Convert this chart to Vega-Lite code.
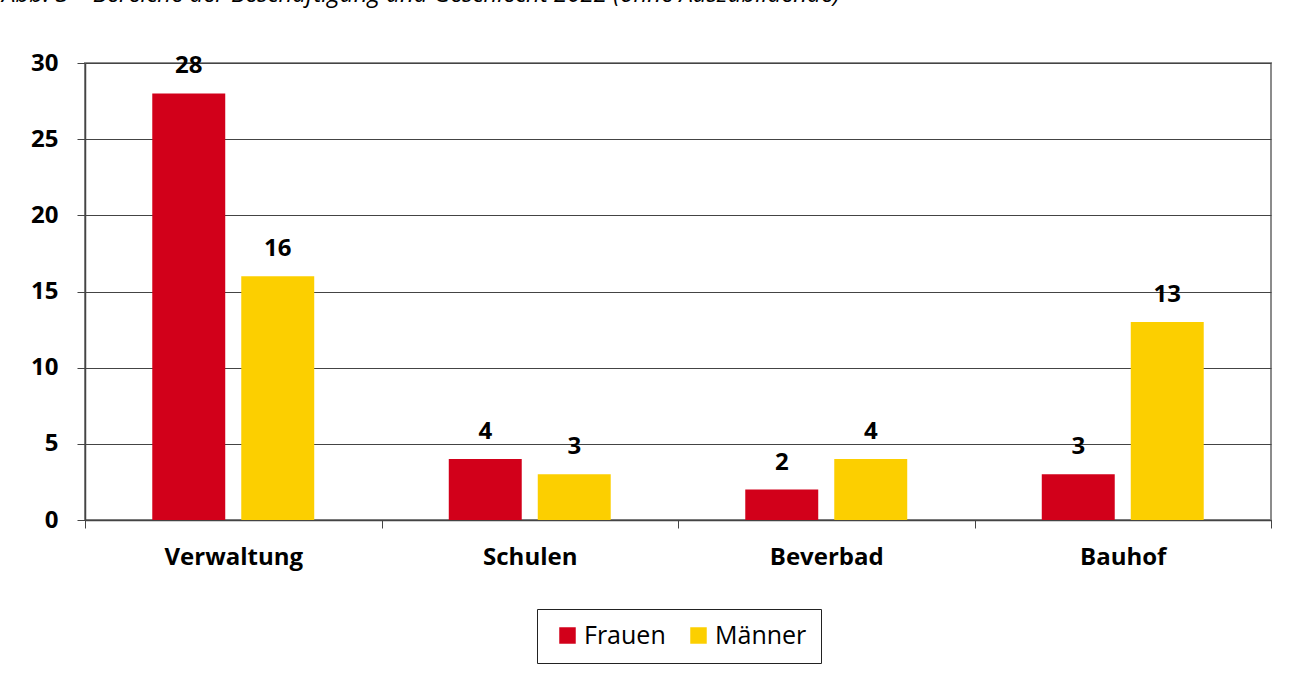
{
  "$schema": "https://vega.github.io/schema/vega-lite/v6.json",
  "width": 1186,
  "height": 457,
  "autosize": {"type": "none"},
  "padding": {"left": 85, "top": 63, "right": 30, "bottom": 153},
  "background": "white",
  "title": {
    "text": "Abb. 3 – Bereiche der Beschäftigung und Geschlecht 2022 (ohne Auszubildende)",
    "anchor": "start",
    "frame": "group",
    "dx": -83,
    "offset": 25,
    "baseline": "alphabetic",
    "font": "Open Sans",
    "fontStyle": "italic",
    "fontWeight": "normal",
    "fontSize": 24,
    "color": "#000"
  },
  "config": {
    "font": "Open Sans",
    "view": {"stroke": "#8c8c8c", "strokeWidth": 2}
  },
  "data": {
    "values": [
      {"Bereich": "Verwaltung", "Geschlecht": "Frauen", "Anzahl": 28},
      {"Bereich": "Verwaltung", "Geschlecht": "Männer", "Anzahl": 16},
      {"Bereich": "Schulen", "Geschlecht": "Frauen", "Anzahl": 4},
      {"Bereich": "Schulen", "Geschlecht": "Männer", "Anzahl": 3},
      {"Bereich": "Beverbad", "Geschlecht": "Frauen", "Anzahl": 2},
      {"Bereich": "Beverbad", "Geschlecht": "Männer", "Anzahl": 4},
      {"Bereich": "Bauhof", "Geschlecht": "Frauen", "Anzahl": 3},
      {"Bereich": "Bauhof", "Geschlecht": "Männer", "Anzahl": 13}
    ]
  },
  "encoding": {
    "x": {
      "field": "Bereich",
      "type": "nominal",
      "sort": ["Verwaltung", "Schulen", "Beverbad", "Bauhof"],
      "scale": {"paddingInner": 0, "paddingOuter": 0},
      "axis": {
        "title": null,
        "labelAngle": 0,
        "labelFontSize": 24,
        "labelFontWeight": "bold",
        "labelColor": "#000",
        "labelPadding": 17,
        "tickBand": "extent",
        "tickSize": 8,
        "tickColor": "#444",
        "domainColor": "#444",
        "domainWidth": 1.5
      }
    },
    "xOffset": {
      "field": "Geschlecht",
      "type": "nominal",
      "sort": ["Frauen", "Männer"],
      "scale": {"paddingInner": 0.18, "paddingOuter": 0.756}
    },
    "y": {
      "field": "Anzahl",
      "type": "quantitative",
      "scale": {"domain": [0, 30], "nice": false},
      "axis": {
        "title": null,
        "values": [0, 5, 10, 15, 20, 25, 30],
        "grid": true,
        "gridColor": "#444",
        "gridWidth": 1,
        "gridOpacity": 1,
        "tickSize": 8,
        "tickColor": "#444",
        "domainColor": "#444",
        "domainWidth": 1.5,
        "labelFontSize": 24,
        "labelFontWeight": "bold",
        "labelColor": "#000",
        "labelPadding": 19
      }
    }
  },
  "layer": [
    {
      "mark": {"type": "bar"},
      "encoding": {
        "color": {
          "field": "Geschlecht",
          "type": "nominal",
          "sort": ["Frauen", "Männer"],
          "scale": {"domain": ["Frauen", "Männer"], "range": ["#D2001A", "#FCCF00"]},
          "legend": {
            "title": null,
            "orient": "none",
            "legendX": 452,
            "legendY": 546,
            "direction": "horizontal",
            "gridAlign": "none",
            "strokeColor": "#222",
            "padding": 14,
            "symbolOffset": 4,
            "symbolType": "square",
            "symbolSize": 272,
            "symbolStrokeWidth": 0,
            "labelFontSize": 25,
            "labelFont": "Open Sans",
            "labelColor": "#000",
            "labelOffset": 4,
            "columnPadding": 16
          }
        }
      }
    },
    {
      "mark": {
        "type": "text",
        "baseline": "alphabetic",
        "dy": -20,
        "fontSize": 24,
        "fontWeight": "bold",
        "color": "#000"
      },
      "encoding": {
        "text": {"field": "Anzahl", "type": "quantitative"}
      }
    }
  ]
}
